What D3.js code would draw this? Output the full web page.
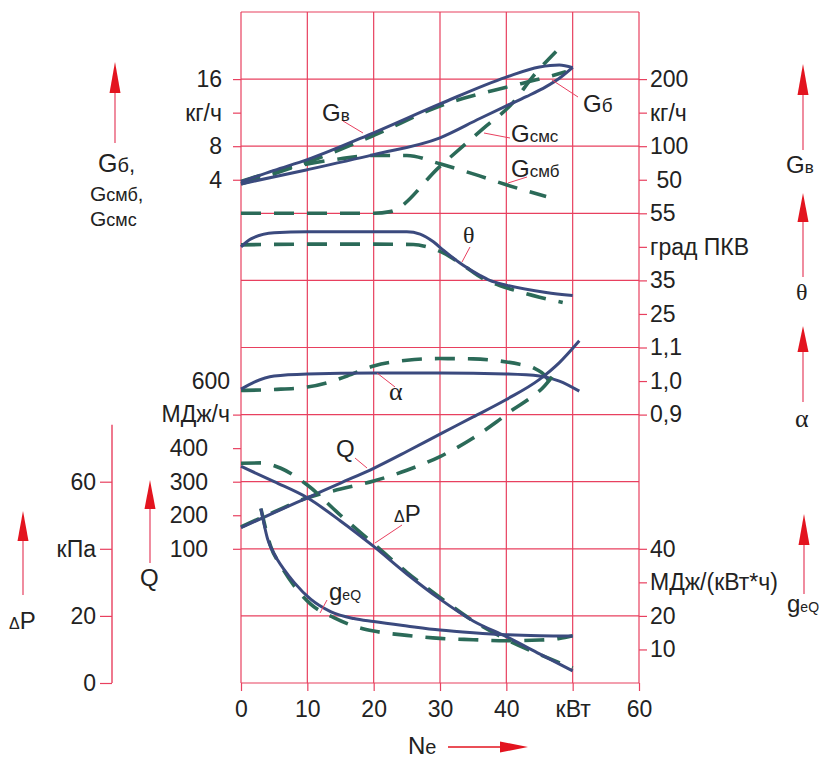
<!DOCTYPE html>
<html>
<head>
<meta charset="utf-8">
<script src="https://cdn.jsdelivr.net/npm/d3@7"></script>
<style>
  body { margin: 0; background: #fff; }
  svg { display: block; font-family: "Liberation Sans", Arial, sans-serif; }
</style>
</head>
<body>
<svg id="chart" width="826" height="759"></svg>
<script>
// Ne, kW (x) and values for every curve; solid = diesel, dashed = gas-diesel
var xTicks = [0, 10, 20, 30, 40, 50, 60];
var xTickLabels = ["0", "10", "20", "30", "40", "кВт", "60"];

// Gв air flow, kg/h (right scale)
var neGvSolid = [0, 5, 10, 20, 30, 40, 45, 48, 50];
var gvSolid   = [47, 64, 80, 120, 163, 203, 218, 221, 217];
var neGvDash  = [0, 5, 10, 20, 30, 40, 45, 49];
var gvDash    = [44, 59, 76, 116, 160, 188, 200, 211];

// Gб diesel flow, kg/h (left scale)
var neGb = [0, 10, 20, 30, 36, 40, 43, 46, 48, 50];
var gb   = [3.5, 5.2, 7.0, 9.0, 11.3, 12.8, 13.9, 15.1, 16.1, 17.4];
// Gсмб pilot diesel, kg/h
var neGsmb = [0, 6, 15, 20, 25, 30, 35, 40, 46];
var gsmb   = [3.8, 5.2, 6.5, 6.9, 6.9, 5.9, 4.7, 3.4, 2.0];
// Gсмс gas, kg/h
var neGsms = [0, 20, 22.5, 30, 36.5, 41, 44, 47.5];
var gsms   = [0, 0, 0.2, 5.6, 10.1, 13.2, 16.3, 19.3];

// θ, grad PKV
var neThSolid = [0, 1.5, 5, 10, 20, 25, 27, 29, 30.5, 33.5, 36, 37.5, 40, 46, 50];
var thSolid   = [45, 47.4, 49.2, 49.5, 49.5, 49.5, 48.8, 46.5, 44, 39.5, 36.5, 35, 33.6, 31.4, 30.5];
var neThDash  = [0, 10, 20, 26, 28, 30.5, 33.5, 36.5, 39, 42, 45, 48.5];
var thDash    = [45.6, 45.8, 45.8, 45.7, 45, 43.2, 39.5, 35.5, 33.5, 31.6, 30, 28.4];

// α
var neASolid = [0, 2, 5, 10, 20, 30, 40, 45, 48, 51];
var aSolid   = [0.976, 0.997, 1.015, 1.021, 1.024, 1.024, 1.021, 1.015, 1.0, 0.97];
var neADash  = [0, 5, 10, 13, 16, 20, 25, 30, 35, 40, 42, 44, 46, 47.2];
var aDash    = [0.972, 0.975, 0.982, 0.995, 1.015, 1.045, 1.062, 1.067, 1.066, 1.057, 1.05, 1.04, 1.012, 0.97];

// Q, MJ/h
var neQSolid = [0, 5, 10, 15, 20, 25, 30, 35, 40, 45, 48, 51];
var qSolid   = [163, 208, 252, 296, 340, 390, 442, 493, 545, 605, 655, 720];
var neQDash  = [0, 5, 10, 15, 20, 25, 30, 35, 38.5, 41, 43.5, 45.5, 47];
var qDash    = [165, 210, 252, 278, 302, 334, 375, 430, 478, 515, 548, 580, 615];

// ΔP, kPa
var nePSolid = [0, 5, 10, 15, 20, 25, 30, 35, 40, 45, 50];
var pSolid   = [64.6, 60, 55.2, 48.3, 40.7, 32.5, 25, 18.5, 13.8, 8.7, 3.6];
var nePDash  = [0, 3, 6, 10, 15, 20, 25, 30, 35, 40, 45, 50];
var pDash    = [65.5, 65.6, 64, 59, 50, 41.5, 33, 25.5, 18.5, 13, 8.5, 4.5];

// geQ, MJ/(kW*h)
var neGeSolid = [3, 4, 5, 6.5, 8, 10.5, 13.5, 17, 20, 25, 30, 35, 40, 45, 50];
var geSolid   = [52, 43, 38.5, 33.8, 30, 25, 21.3, 19.2, 18.3, 17, 15.8, 15, 14.4, 14.1, 14.0];
var neGeDash  = [3, 4.5, 6, 8, 10.5, 14, 17, 20, 25, 30, 35, 40, 45, 48, 50];
var geDash    = [52, 40.6, 35, 29, 23.5, 19.5, 17, 15.5, 14.2, 13.3, 12.9, 12.6, 12.8, 13.3, 14.1];

// tick values and labels of the side scales
var gTicks = [4, 8, 12, 16], gLabels = ["4", "8", "кг/ч", "16"];
var gvTicks = [50, 100, 150, 200], gvLabels = [" 50", "100", "кг/ч", "200"];
var thTicks = [25, 35, 45, 55], thLabels = ["25", "35", "град ПКВ", "55"];
var aTicks = [0.9, 1.0, 1.1], aLabels = ["0,9", "1,0", "1,1"];
var qTicks = [100, 200, 300, 400, 500, 600], qLabels = ["100", "200", "300", "400", "МДж/ч", "600"];
var pTicks = [0, 20, 40, 60], pLabels = ["0", "20", "кПа", "60"];
var geTicks = [10, 20, 30, 40], geLabels = ["10", "20", "МДж/(кВт*ч)", "40"];

var svg = d3.select("#chart");
var gridC = "#e8405f", solidC = "#3b4a7e", dashC = "#2b6a58", txt = "#222",
    arrowC = "#e3141f", shaftC = "#ec7088";

var x = d3.scaleLinear().domain([0, 60]).range([241, 639]);
var row = d3.scaleLinear().domain([0, 10]).range([12, 683]);

var yG  = d3.scaleLinear().domain([0, 16]).range([row(3), row(1)]);
var yGv = d3.scaleLinear().domain([0, 200]).range([row(3), row(1)]);
var yTh = d3.scaleLinear().domain([35, 55]).range([row(4), row(3)]);
var yA  = d3.scaleLinear().domain([0.9, 1.1]).range([row(6), row(5)]);
var yQ  = d3.scaleLinear().domain([100, 300]).range([row(8), row(7)]);
var yP  = d3.scaleLinear().domain([0, 40]).range([row(10), row(8)]);
var yGe = d3.scaleLinear().domain([20, 40]).range([row(9), row(8)]);

svg.append("rect").attr("width", 826).attr("height", 759).attr("fill", "#fff");

// grid
var grid = svg.append("g").attr("stroke", gridC).attr("stroke-width", 1.2);
grid.selectAll(".v").data(xTicks).join("line").attr("class", "v")
    .attr("x1", x).attr("x2", x).attr("y1", row(0)).attr("y2", row(10));
grid.selectAll(".h").data(d3.range(11)).join("line").attr("class", "h")
    .attr("x1", x(0)).attr("x2", x(60)).attr("y1", row).attr("y2", row);

function styleAxis(g, size) {
  g.select(".domain").remove();
  g.selectAll(".tick line").attr("stroke", gridC).attr("stroke-width", 1.2);
  g.selectAll(".tick text").attr("fill", txt).attr("font-size", size || 23)
    .attr("font-family", '"Liberation Sans", Arial, sans-serif');
  return g;
}
function fmt(ticks, labels) {
  return function(d) { return labels[ticks.indexOf(d)]; };
}

// bottom axis
styleAxis(svg.append("g").attr("transform", "translate(0," + row(10) + ")")
  .call(d3.axisBottom(x).tickValues(xTicks).tickSize(8).tickPadding(10)
    .tickFormat(fmt(xTicks, xTickLabels))));

// left axes
styleAxis(svg.append("g").attr("transform", "translate(" + x(0) + ",0)")
  .call(d3.axisLeft(yG).tickValues(gTicks).tickSize(8).tickPadding(11)
    .tickFormat(fmt(gTicks, gLabels))));

var qAx = styleAxis(svg.append("g").attr("transform", "translate(" + x(0) + ",0)")
  .call(d3.axisLeft(yQ).tickValues(qTicks).tickSize(8).tickPadding(25)
    .tickFormat(fmt(qTicks, qLabels))));
qAx.selectAll(".tick").filter(function(d) { return d >= 500; }).select("text").attr("x", -11);
qAx.selectAll(".tick").filter(function(d) { return d === 600; }).select("line").remove();

var pAxX = 112;
var pAx = styleAxis(svg.append("g").attr("transform", "translate(" + pAxX + ",0)")
  .call(d3.axisLeft(yP).tickValues(pTicks).tickSize(12).tickPadding(4)
    .tickFormat(fmt(pTicks, pLabels))));
pAx.append("line").attr("stroke", gridC).attr("stroke-width", 1.4)
  .attr("x1", 0).attr("x2", 0).attr("y1", yP(0)).attr("y2", yP(77));

// right axes
function rightAxis(scale, ticks, labels) {
  return styleAxis(svg.append("g").attr("transform", "translate(" + x(60) + ",0)")
    .call(d3.axisRight(scale).tickValues(ticks).tickSize(8).tickPadding(3)
      .tickFormat(fmt(ticks, labels))));
}
rightAxis(yGv, gvTicks, gvLabels).selectAll("text").attr("xml:space", "preserve");
rightAxis(yTh, thTicks, thLabels);
rightAxis(yA, aTicks, aLabels);
rightAxis(yGe, geTicks, geLabels);

// curves
function curve(ne, vals, scale, dashed) {
  var pts = ne.map(function(n, i) { return [n, vals[i]]; });
  var line = d3.line().x(function(d) { return x(d[0]); })
      .y(function(d) { return scale(d[1]); }).curve(d3.curveMonotoneX);
  svg.append("path").attr("d", line(pts)).attr("fill", "none")
    .attr("stroke", dashed ? dashC : solidC)
    .attr("stroke-width", dashed ? 3.6 : 3)
    .attr("stroke-dasharray", dashed ? "20,13" : null)
    .attr("stroke-linecap", "butt");
}
curve(neGsms, gsms, yG, true);
curve(neGsmb, gsmb, yG, true);
curve(neGvDash, gvDash, yGv, true);
curve(neGvSolid, gvSolid, yGv, false);
curve(neGb, gb, yG, false);
curve(neThDash, thDash, yTh, true);
curve(neThSolid, thSolid, yTh, false);
curve(neADash, aDash, yA, true);
curve(neASolid, aSolid, yA, false);
curve(neQDash, qDash, yQ, true);
curve(neQSolid, qSolid, yQ, false);
curve(nePDash, pDash, yP, true);
curve(nePSolid, pSolid, yP, false);
curve(neGeDash, geDash, yGe, true);
curve(neGeSolid, geSolid, yGe, false);

// leader lines
var leaders = [
  [343, 121, 363, 133], [552, 80, 578, 97], [484, 133, 510, 138], [508, 183, 527, 177],
  [470, 247, 462, 262], [377, 373, 395, 387], [355, 458, 367, 468], [402, 525, 375, 543],
  [327, 600, 320, 613]
];
svg.append("g").selectAll("line").data(leaders).join("line")
  .attr("x1", function(d) { return d[0]; }).attr("y1", function(d) { return d[1]; })
  .attr("x2", function(d) { return d[2]; }).attr("y2", function(d) { return d[3]; })
  .attr("stroke", gridC).attr("stroke-width", 1);

// labels with small subscripts
function lab(px, py, parts) {
  var t = svg.append("text").attr("x", px).attr("y", py).attr("fill", txt);
  parts.forEach(function(p) {
    t.append("tspan").text(p[0]).attr("font-size", p[1])
      .attr("font-family", p[2] ? '"Liberation Serif", "Times New Roman", serif' : null);
  });
}
lab(322, 121, [["G", 24], ["в", 17]]);
lab(583, 112, [["G", 24], ["б", 19]]);
lab(511, 142, [["G", 24], ["смс", 17]]);
lab(511, 177, [["G", 24], ["смб", 17]]);
lab(463, 243, [["θ", 24, true]]);
lab(389, 400, [["α", 26, true]]);
lab(336, 457, [["Q", 24]]);
lab(394, 522, [["Δ", 16], ["P", 24]]);
lab(329, 600, [["g", 24], ["eQ", 14]]);

lab(98, 172, [["G", 25], ["б", 20], [",", 22]]);
lab(90, 201, [["G", 21], ["смб", 18], [",", 20]]);
lab(90, 226, [["G", 21], ["смс", 18]]);
lab(9, 629, [["Δ", 16], ["P", 24]]);
lab(140, 586, [["Q", 24]]);

lab(786, 173, [["G", 24], ["в", 17]]);
lab(796, 300, [["θ", 24, true]]);
lab(795, 427, [["α", 26, true]]);
lab(787, 612, [["g", 24], ["eQ", 14]]);
lab(408, 754, [["N", 24], ["e", 20]]);

// arrows
function upArrow(ax, tip, base, bottom) {
  svg.append("line").attr("x1", ax).attr("x2", ax).attr("y1", base).attr("y2", bottom)
    .attr("stroke", shaftC).attr("stroke-width", 1.6);
  svg.append("path").attr("fill", arrowC)
    .attr("d", "M" + ax + "," + tip + "L" + (ax + 5.5) + "," + base + "L" + (ax - 5.5) + "," + base + "Z");
}
upArrow(115, 62, 93, 143);
upArrow(803, 64, 95, 150);
upArrow(803, 193, 222, 277);
upArrow(803, 326, 352, 402);
upArrow(804, 514, 545, 594);
upArrow(23, 511, 541, 595);
upArrow(150, 480, 509, 563);

svg.append("line").attr("x1", 448).attr("x2", 502).attr("y1", 747).attr("y2", 747)
  .attr("stroke", arrowC).attr("stroke-width", 1.6);
svg.append("path").attr("fill", arrowC).attr("d", "M528,747L500,741.5L500,752.5Z");
</script>
</body>
</html>
